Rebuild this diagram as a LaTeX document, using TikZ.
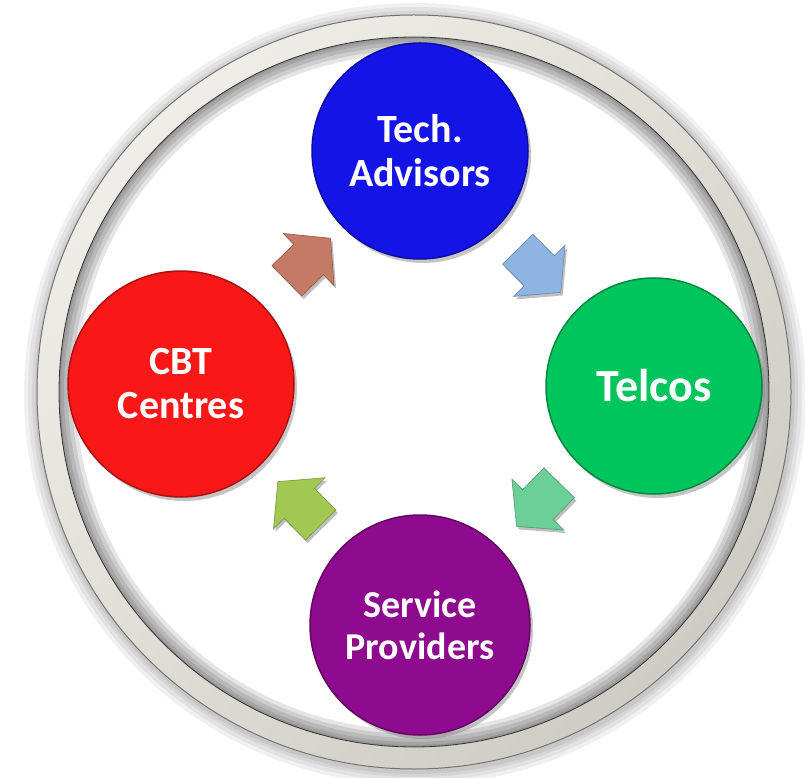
\documentclass[tikz,border=0pt]{standalone}
\usepackage{fontspec}
\setmainfont{Carlito}
\usetikzlibrary{shapes.arrows,shadows}
\definecolor{ringlo}{HTML}{CFCCC3}
\definecolor{ringhi}{HTML}{EFEDE7}
\definecolor{techblue}{HTML}{1414E6}
\definecolor{telgreen}{HTML}{00C45C}
\definecolor{spurple}{HTML}{8E0A8E}
\definecolor{cbtred}{HTML}{F81818}
\definecolor{arbrown}{HTML}{C47A64}
\definecolor{arblue}{HTML}{8EB4E3}
\definecolor{arteal}{HTML}{6CCF98}
\definecolor{arlime}{HTML}{A2C854}
\begin{document}
\begin{tikzpicture}[x=1pt,y=1pt,
		ball/.style={circle,fill=#1,draw=#1!70!black,line width=1.5pt,text=white,align=center,
			drop shadow={opacity=.45,shadow xshift=3pt,shadow yshift=-4pt}},
		blk/.style={single arrow,fill=#1,draw=#1!75!black,line width=.6pt,inner xsep=0pt,inner ysep=21pt,
			single arrow head extend=15pt,single arrow tip angle=100,minimum height=61pt,
			sloped,allow upside down,
			drop shadow={opacity=.5,shadow xshift=2pt,shadow yshift=-3pt}}]
		\useasboundingbox (0,0) rectangle (805,777);
		\coordinate (o) at (414,385);
		% ring and its shadows
		\foreach \rad in {391,387,383,380}
			\fill[black,opacity=.06] ([shift={(1,-2)}]o) circle (\rad);
		\fill[white] (o) circle (377);
		\shade[even odd rule,top color=ringhi,bottom color=ringlo,shading angle=45] (o) circle (377) (o) circle (355);
		\draw[black!55,line width=1pt] (o) circle (377);
		\draw[black!70,line width=.8pt] (o) circle (355);
		\foreach \rad in {353,350,346,342,338}
			\fill[black,opacity=.1,even odd rule] (o) circle (355) (o) circle (\rad);
		\node[ball=techblue,minimum size=216pt,font=\bfseries\fontsize{40}{44}\selectfont] (tech) at (420,626) {Tech.\\Advisors};
		\node[ball=telgreen,minimum size=216pt,font=\bfseries\fontsize{46}{50}\selectfont] (tel) at (654,391) {Telcos};
		\node[ball=spurple,minimum size=220pt,font=\bfseries\fontsize{38}{42}\selectfont] (sp) at (420,152) {Service\\Providers};
		\node[ball=cbtred,minimum size=226pt,font=\bfseries\fontsize{40}{44}\selectfont] (cbt) at (181,393) {CBT\\Centres};
		\path (cbt) -- node[blk=arbrown] (a1) {} (tech);
		\path (tech) -- node[blk=arblue,pos=.45] (a2) {} (tel);
		\path (tel) -- node[blk=arteal,pos=.42] (a3) {} (sp);
		\path (sp) -- node[blk=arlime,pos=.45] (a4) {} (cbt);
	\end{tikzpicture}
\end{document}
